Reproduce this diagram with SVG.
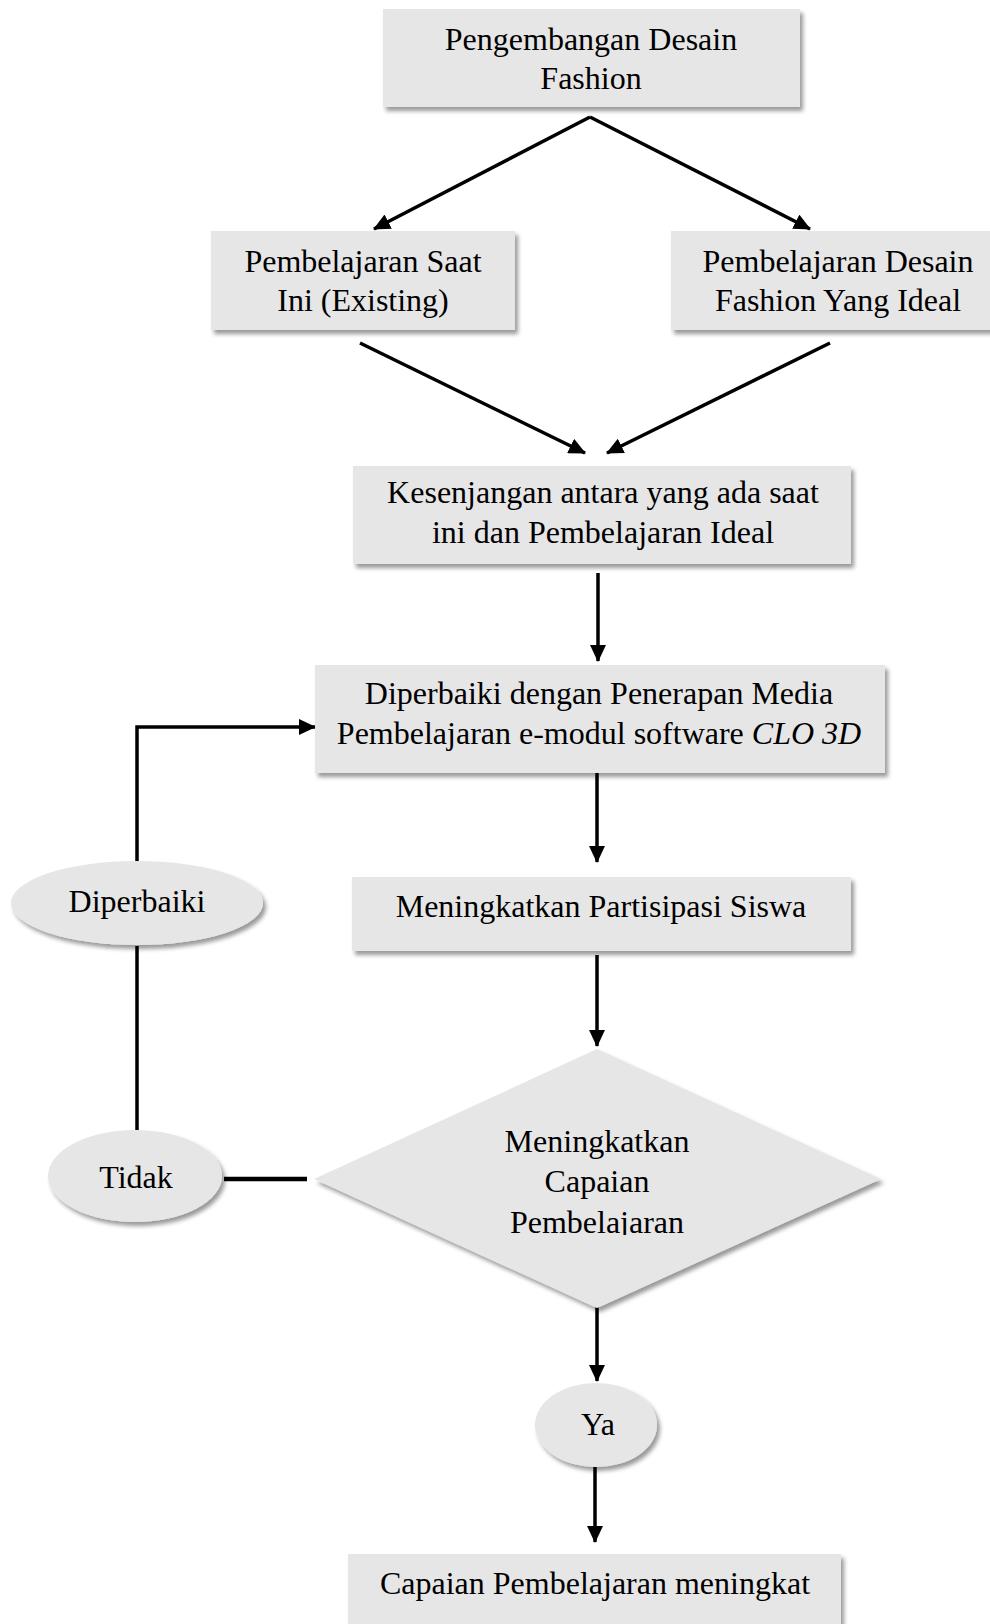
<svg xmlns="http://www.w3.org/2000/svg" width="990" height="1624" viewBox="0 0 990 1624">
<defs>
<filter id="sh" x="-10%" y="-10%" width="125%" height="130%">
<feDropShadow dx="3" dy="4" stdDeviation="2" flood-color="#000" flood-opacity="0.4"/>
</filter>
<marker id="ah" markerUnits="userSpaceOnUse" markerWidth="17" markerHeight="16" refX="16" refY="8" orient="auto">
<path d="M0,0 L17,8 L0,16 z" fill="#000"/>
</marker>
<clipPath id="dclip"><rect x="300" y="1040" width="600" height="195"/></clipPath>
</defs>
<style>
.box{fill:#e7e6e6;filter:url(#sh)}
.t{font-family:"Liberation Serif","Times New Roman",serif;font-size:32px;fill:#000;text-anchor:middle}
.c{stroke:#000;stroke-width:3.5;fill:none}
.a{marker-end:url(#ah)}
</style>
<rect width="990" height="1624" fill="#fff"/>
<g id="connectors">
<path class="c a" d="M590,117 L374,229"/>
<path class="c a" d="M590,117 L810,229"/>
<path class="c a" d="M360,343 L585,453"/>
<path class="c a" d="M830,343 L607,453"/>
<path class="c a" d="M598,573 L598,661"/>
<path class="c a" d="M597,773 L597,862"/>
<path class="c a" d="M597,955 L597,1046"/>
<path class="c a" d="M597,1307 L597,1381"/>
<path class="c a" d="M595,1467 L595,1542"/>
<path class="c a" d="M137,861 L137,727 L315,727"/>
<path class="c" d="M137,946 L137,1130"/>
<path class="c" style="stroke-width:4.5" d="M224,1179 L307,1179"/>
</g>
<g id="n-top">
<rect class="box" x="383" y="9" width="417" height="98"/>
<text class="t" x="591" y="50">Pengembangan Desain</text>
<text class="t" x="591" y="89">Fashion</text>
</g>
<g id="n-existing">
<rect class="box" x="211" y="231" width="304" height="99"/>
<text class="t" x="363" y="272">Pembelajaran Saat</text>
<text class="t" x="363" y="311">Ini (Existing)</text>
</g>
<g id="n-ideal">
<rect class="box" x="671" y="231" width="340" height="99"/>
<text class="t" x="838" y="272">Pembelajaran Desain</text>
<text class="t" x="838" y="311">Fashion Yang Ideal</text>
</g>
<g id="n-gap">
<rect class="box" x="353" y="466" width="498" height="98"/>
<text class="t" x="603" y="503">Kesenjangan antara yang ada saat</text>
<text class="t" x="603" y="543">ini dan Pembelajaran Ideal</text>
</g>
<g id="n-media">
<rect class="box" x="315" y="665" width="570" height="108"/>
<text class="t" x="599" y="704">Diperbaiki dengan Penerapan Media</text>
<text class="t" x="599" y="744">Pembelajaran e-modul software <tspan font-style="italic">CLO 3D</tspan></text>
</g>
<g id="n-partisipasi">
<rect class="box" x="352" y="877" width="499" height="74"/>
<text class="t" x="601" y="917">Meningkatkan Partisipasi Siswa</text>
</g>
<g id="n-decision">
<polygon class="box" points="597,1049 881,1179 597,1308 314,1179"/>
<g clip-path="url(#dclip)">
<text class="t" x="597" y="1152">Meningkatkan</text>
<text class="t" x="597" y="1192">Capaian</text>
<text class="t" x="597" y="1233">Pembelajaran</text>
</g>
</g>
<g id="n-diperbaiki">
<ellipse class="box" cx="137" cy="903" rx="126" ry="42"/>
<text class="t" x="137" y="912">Diperbaiki</text>
</g>
<g id="n-tidak">
<ellipse class="box" cx="135" cy="1176" rx="87" ry="46"/>
<text class="t" x="136" y="1188">Tidak</text>
</g>
<g id="n-ya">
<ellipse class="box" cx="596" cy="1425" rx="61" ry="42"/>
<text class="t" x="598" y="1435">Ya</text>
</g>
<g id="n-final">
<rect class="box" x="348" y="1554" width="493" height="80"/>
<text class="t" x="595" y="1594">Capaian Pembelajaran meningkat</text>
</g>
</svg>
